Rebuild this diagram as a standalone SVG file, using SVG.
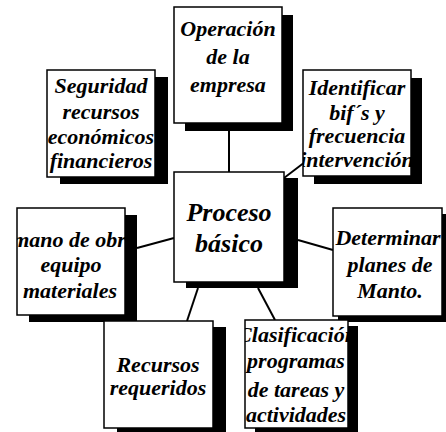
<svg xmlns="http://www.w3.org/2000/svg" width="446" height="432" viewBox="0 0 446 432">
<style>
.sh{fill:#000}
.bx{fill:#fff;stroke:#000;stroke-width:1.5}
.t{font-family:"Liberation Serif","Times New Roman",serif;font-weight:bold;font-style:italic;font-size:22px;text-anchor:middle;fill:#000}
.big{font-size:26px}
.c{stroke:#000;stroke-width:2;fill:none}
</style>
<defs>
<clipPath id="c5"><rect x="17" y="208" width="108" height="107"/></clipPath>
<clipPath id="c6"><rect x="333" y="208" width="109" height="108"/></clipPath>
<clipPath id="c3"><rect x="303" y="70" width="108" height="106"/></clipPath>
<clipPath id="c8"><rect x="245" y="320" width="103" height="108"/></clipPath>
<clipPath id="c2"><rect x="47" y="70" width="108" height="107"/></clipPath>
</defs>
<g id="connectors">
<line class="c" x1="229" y1="131" x2="229" y2="172"/>
<line class="c" x1="284" y1="178" x2="305" y2="162"/>
<line class="c" x1="137" y1="248" x2="174" y2="238"/>
<line class="c" x1="298" y1="240" x2="333" y2="250"/>
<line class="c" x1="187" y1="321" x2="198" y2="288"/>
<line class="c" x1="258" y1="288" x2="275" y2="320"/>
</g>
<g id="operacion">
<rect class="sh" x="185" y="15" width="108" height="116"/>
<rect class="bx" x="174" y="7" width="108" height="116"/>
<text class="t" x="228" y="36">Operación</text>
<text class="t" x="228" y="64">de la</text>
<text class="t" x="228" y="92">empresa</text>
</g>
<g id="seguridad">
<rect class="sh" x="60" y="77" width="108" height="107"/>
<rect class="bx" x="47" y="70" width="108" height="107"/>
<g clip-path="url(#c2)">
<text class="t" x="101" y="93">Seguridad</text>
<text class="t" x="101" y="119">recursos</text>
<text class="t" x="101" y="144">económicos</text>
<text class="t" x="101" y="168">financieros</text>
</g>
</g>
<g id="identificar">
<rect class="sh" x="314" y="78" width="108" height="106"/>
<rect class="bx" x="303" y="70" width="108" height="106"/>
<g clip-path="url(#c3)">
<text class="t" x="357" y="95">Identificar</text>
<text class="t" x="357" y="120">bif´s y</text>
<text class="t" x="357" y="143">frecuencia</text>
<text class="t" x="357" y="167">intervención</text>
</g>
</g>
<g id="proceso">
<rect class="sh" x="186" y="178" width="112" height="110"/>
<rect class="bx" x="174" y="172" width="110" height="110"/>
<text class="t big" x="229" y="221">Proceso</text>
<text class="t big" x="229" y="252">básico</text>
</g>
<g id="mano">
<rect class="sh" x="29" y="215" width="108" height="107"/>
<rect class="bx" x="17" y="208" width="108" height="107"/>
<g clip-path="url(#c5)">
<text class="t" x="69" y="247">mano de obr</text>
<text class="t" x="71" y="272">equipo</text>
<text class="t" x="70" y="298">materiales</text>
</g>
</g>
<g id="determinar">
<rect class="sh" x="338" y="214" width="108" height="108"/>
<rect class="bx" x="333" y="208" width="109" height="108"/>
<g clip-path="url(#c6)">
<text class="t" x="388" y="245">Determinar</text>
<text class="t" x="390" y="272">planes de</text>
<text class="t" x="390" y="298">Manto.</text>
</g>
</g>
<g id="recursos">
<rect class="sh" x="117" y="327" width="109" height="107"/>
<rect class="bx" x="104" y="321" width="109" height="107"/>
<text class="t" x="158" y="372">Recursos</text>
<text class="t" x="158" y="395">requeridos</text>
</g>
<g id="clasificacion">
<rect class="sh" x="255" y="326" width="103" height="108"/>
<rect class="bx" x="245" y="320" width="103" height="108"/>
<g clip-path="url(#c8)">
<text class="t" x="297" y="342">Clasificación</text>
<text class="t" x="296" y="368">programas</text>
<text class="t" x="296" y="397">de tareas y</text>
<text class="t" x="296" y="422">actividades</text>
</g>
</g>
</svg>
